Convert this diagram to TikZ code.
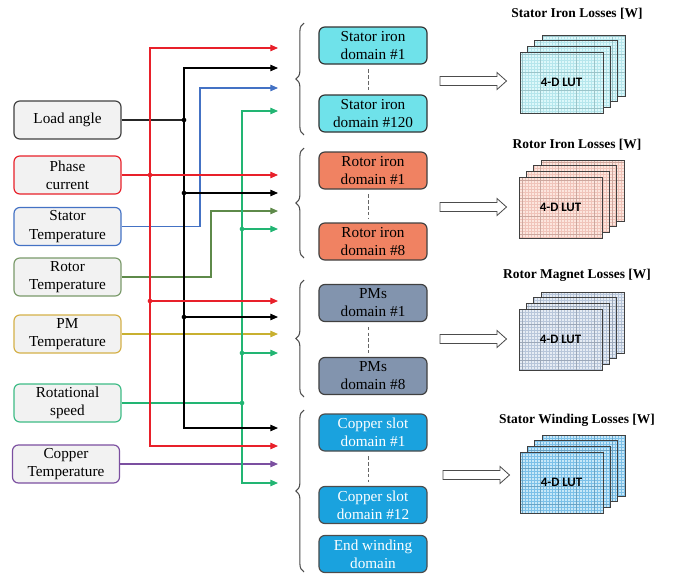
\documentclass[tikz,border=0pt]{standalone}
\usepackage{fontspec}
\setmainfont{Liberation Serif}
\newfontfamily\lutfont{Carlito}
\usetikzlibrary{arrows.meta,decorations.pathreplacing,calc}
\definecolor{boxgray}{HTML}{F2F2F2}
\definecolor{cRed}{HTML}{E8202A}
\definecolor{cBlue}{HTML}{4472C4}
\definecolor{cGreen}{HTML}{22B573}
\definecolor{cOlive}{HTML}{5E8A4A}
\definecolor{cYellow}{HTML}{C8B030}
\definecolor{cPurple}{HTML}{7B4FA0}
\definecolor{bLoad}{HTML}{404040}
\definecolor{bRotor}{HTML}{7A9A6A}
\definecolor{bPM}{HTML}{D4B048}
\definecolor{bSpeed}{HTML}{3DBB85}
\definecolor{fSI}{HTML}{6FE2EA}
\definecolor{fRI}{HTML}{F08262}
\definecolor{fPM}{HTML}{8294AE}
\definecolor{fCU}{HTML}{1AA2DE}
\definecolor{lCyan}{HTML}{DDF8FA}
\definecolor{gCyan}{HTML}{B6E6EC}
\definecolor{lSal}{HTML}{FCE6DE}
\definecolor{gSal}{HTML}{F0C4BA}
\definecolor{lGB}{HTML}{E6ECF4}
\definecolor{gGB}{HTML}{B8C6DA}
\definecolor{lBl}{HTML}{C8E8F8}
\definecolor{gBl}{HTML}{7CC0E8}
\newcommand{\lutstack}[5]{%
  \foreach \k in {3,2,1,0}{%
    \fill[#3] (#1+\k*7.3, #2-\k*5.7) rectangle (#1+\k*7.3+83, #2-\k*5.7+61);
    \draw[#4, line width=0.25pt, step=0.09cm] (#1+\k*7.3, #2-\k*5.7) grid (#1+\k*7.3+83, #2-\k*5.7+61);
    \draw[#4!85!black, line width=0.3pt, step=0.54cm] (#1+\k*7.3, #2-\k*5.7) grid (#1+\k*7.3+83, #2-\k*5.7+61);
    \draw[lutborder] (#1+\k*7.3, #2-\k*5.7) rectangle (#1+\k*7.3+83, #2-\k*5.7+61);
  }
  \node[font=\lutfont\bfseries\fontsize{11}{13}\selectfont] (#5) at (#1+41.5,#2+30.5) {4-D LUT};
}
\begin{document}
\begin{tikzpicture}[x=0.03cm,y=-0.03cm,
  inbox/.style={draw, rounded corners=5pt, fill=boxgray, line width=1pt, minimum width=3.21cm, minimum height=1.14cm, align=center, font=\fontsize{13}{15.5}\selectfont, inner sep=1pt},
  dombox/.style={draw, rounded corners=5pt, line width=1pt, minimum width=3.24cm, minimum height=1.11cm, align=center, font=\fontsize{13}{15.5}\selectfont, inner sep=1pt},
  conn/.style={line width=0.95pt},
  arr/.style={conn,-{Triangle[length=6.5pt,width=5.5pt]}},
  jdot/.style={circle, fill, inner sep=0pt, minimum size=4pt},
  bracestyle/.style={decorate, decoration={brace, amplitude=7pt}, line width=0.9pt, draw=black!70},
  dashsep/.style={dashed, line width=1.2pt, draw=black!60, dash pattern=on 3pt off 2pt},
  hollow/.style={draw=black!70, line width=0.7pt, fill=white},
  lutborder/.style={draw=black!75, line width=0.6pt},
  title/.style={font=\bfseries\fontsize{11.5}{13}\selectfont}
]
\useasboundingbox (0,0) rectangle (686,578);

% ---- input boxes
\node[inbox, draw=bLoad] (la) at (67.5,120) {Load angle};
\node[inbox, draw=cRed] (pc) at (67.5,175) {Phase\\current};
\node[inbox, draw=cBlue] (st) at (67.5,226.5) {Stator\\Temperature};
\node[inbox, draw=bRotor] (rt) at (67.5,277) {Rotor\\Temperature};
\node[inbox, draw=bPM] (pm) at (67.5,334) {PM\\Temperature};
\node[inbox, draw=bSpeed] (rs) at (67.5,403) {Rotational\\speed};
\node[inbox, draw=cPurple] (ct) at (66,464) {Copper\\Temperature};

% ---- arrow end coordinates
\coordinate (e1a) at (278,48);  \coordinate (e1b) at (278,68);
\coordinate (e1c) at (278,88);  \coordinate (e1d) at (278,111);
\coordinate (e2a) at (278,175); \coordinate (e2b) at (278,193);
\coordinate (e2c) at (278,211); \coordinate (e2d) at (278,229);
\coordinate (e3a) at (278,301); \coordinate (e3b) at (278,317);
\coordinate (e3c) at (278,334); \coordinate (e3d) at (278,353);
\coordinate (e4a) at (278,428); \coordinate (e4b) at (278,446);
\coordinate (e4c) at (278,464); \coordinate (e4d) at (278,483);

% junctions / bends
\coordinate (jr) at (150,175);
\coordinate (jb) at (184,120);
\coordinate (jg) at (242,403);
\coordinate (bb) at (200,88);
\coordinate (ob) at (211,211);

% ---- blue (stator temperature)
\draw[arr, cBlue] (st.east) -| (bb) -- (e1c);
% ---- olive (rotor temperature)
\draw[arr, cOlive] (rt.east) -| (ob) -- (e2c);
% ---- yellow (PM temperature)
\draw[arr, cYellow] (pm.east) -- (e3c);
% ---- purple (copper temperature)
\draw[arr, cPurple] (ct.east) -- (e4c);
% ---- green (rotational speed)
\draw[conn, cGreen] (rs.east) -- (jg);
\draw[arr, cGreen] (jg) |- (e1d);
\draw[arr, cGreen] (jg) |- (e4d);
\draw[arr, cGreen] (jg|-e2d) -- (e2d);
\draw[arr, cGreen] (jg|-e3d) -- (e3d);
\node[jdot, cGreen] at (jg) {};
\node[jdot, cGreen] at (jg|-e2d) {};
\node[jdot, cGreen] at (jg|-e3d) {};
% ---- black (load angle)
\draw[conn, black!85] (la.east) -- (jb);
\draw[arr, black] (jb) |- (e1b);
\draw[arr, black] (jb) |- (e4a);
\draw[arr, black] (jb|-e2b) -- (e2b);
\draw[arr, black] (jb|-e3b) -- (e3b);
\node[jdot, black] at (jb) {};
\node[jdot, black] at (jb|-e2b) {};
\node[jdot, black] at (jb|-e3b) {};
% ---- red (phase current)
\draw[arr, cRed] (pc.east) -- (e2a);
\draw[arr, cRed] (jr) |- (e1a);
\draw[arr, cRed] (jr) |- (e4b);
\draw[arr, cRed] (jr|-e3a) -- (e3a);
\node[jdot, cRed] at (jr) {};
\node[jdot, cRed] at (jr|-e3a) {};

% ---- braces
\draw[bracestyle] (304,135) -- (304,23);
\draw[bracestyle] (304,258) -- (304,148);
\draw[bracestyle] (304,397) -- (304,280);
\draw[bracestyle] (304,572) -- (304,410);

% ---- domain boxes
\node[dombox, fill=fSI, draw=black!80] (si1) at (373,45.5) {Stator iron\\domain \#1};
\node[dombox, fill=fSI, draw=black!80] (si2) at (373,113.5) {Stator iron\\domain \#120};
\node[dombox, fill=fRI, draw=black!75] (ri1) at (373,170.5) {Rotor iron\\domain \#1};
\node[dombox, fill=fRI, draw=black!75] (ri2) at (373,241.5) {Rotor iron\\domain \#8};
\node[dombox, fill=fPM, draw=black!75] (pm1) at (373,303) {PMs\\domain \#1};
\node[dombox, fill=fPM, draw=black!75] (pm2) at (373,376) {PMs\\domain \#8};
\node[dombox, fill=fCU, draw=black!70, text=white] (cu1) at (373,432.5) {Copper slot\\domain \#1};
\node[dombox, fill=fCU, draw=black!70, text=white] (cu2) at (373,505) {Copper slot\\domain \#12};
\node[dombox, fill=fCU, draw=black!70, text=white] (ew) at (373,554) {End winding\\domain};

\draw[dashsep] ([xshift=-4pt,yshift=-4pt]si1.south) -- ([xshift=-4pt,yshift=3pt]si2.north);
\draw[dashsep] ([xshift=-4pt,yshift=-4pt]ri1.south) -- ([xshift=-4pt,yshift=3pt]ri2.north);
\draw[dashsep] ([xshift=-4pt,yshift=-4pt]pm1.south) -- ([xshift=-4pt,yshift=3pt]pm2.north);
\draw[dashsep] ([xshift=-4pt,yshift=-4pt]cu1.south) -- ([xshift=-4pt,yshift=3pt]cu2.north);

% ---- hollow arrows
\coordinate (h1) at (440,81);
\coordinate (h2) at (440,207);
\coordinate (h3) at (440,339);
\coordinate (h4) at (443,475);
\foreach \h in {h1,h2,h3,h4}{
  \draw[hollow] ($(\h)+(0,-4.5)$) -- ++(57,0) -- ++(0,-4) -- ++(9.5,8.5) -- ++(-9.5,8.5) -- ++(0,-4) -- ++(-57,0) -- cycle;
}

% ---- titles
\node[title] (t1) at (577,14) {Stator Iron Losses [W]};
\node[title] (t2) at (577,145) {Rotor Iron Losses [W]};
\node[title] (t3) at (577,275) {Rotor Magnet Losses [W]};
\node[title] (t4) at (577,420) {Stator Winding Losses [W]};

% ---- LUT stacks
\lutstack{520}{52}{lCyan}{gCyan}{lut1}
\lutstack{519}{177}{lSal}{gSal}{lut2}
\lutstack{519}{309}{lGB}{gGB}{lut3}
\lutstack{520}{452}{lBl}{gBl}{lut4}
\end{tikzpicture}
\end{document}
